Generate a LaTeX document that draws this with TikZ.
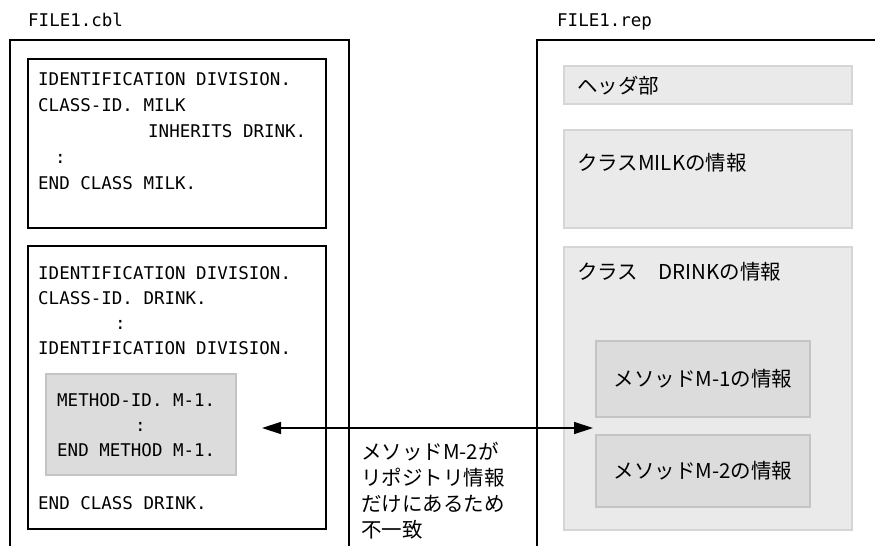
\documentclass[tikz,border=0pt]{standalone}
\usepackage{fontspec}
\usepackage{xcolor}
\usepackage{tikz}
\usetikzlibrary{arrows.meta}
\newfontfamily\codefont{DejaVu Sans Mono}
\newfontfamily\jpfont{Noto Sans CJK JP}
\definecolor{ColPanel}{RGB}{234,234,234}
\definecolor{ColPanelEdge}{RGB}{214,214,214}
\definecolor{ColMethod}{RGB}{220,220,220}
\definecolor{ColMethodEdge}{RGB}{196,196,196}

\begin{document}
\begin{tikzpicture}[
  x=1pt, y=-1pt,
  >={Triangle[length=19pt,width=12pt]},
  code/.style={anchor=base west, inner sep=0pt, align=left,
    font=\codefont\fontsize{17.5}{26}\selectfont},
  jp/.style={inner sep=0pt, align=left,
    font=\jpfont\fontsize{20.5}{26}\selectfont},
  frame/.style={draw=black, line width=1.5pt},
  panel/.style={fill=ColPanel, draw=ColPanelEdge, line width=1.2pt},
  methodbox/.style={fill=ColMethod, draw=ColMethodEdge, line width=1.2pt}
]
  \useasboundingbox (0,0) rectangle (875,546);

  % Source file FILE1.cbl (frame runs off the bottom)
  % (base of a multi-line node = baseline of its last line)
  \node[code] (cblname) at (28,26) {FILE1.cbl};
  \draw[frame] (10,546) -- (10,40) -- (349,40) -- (349,546);

  \draw[frame] (28,59) rectangle (326,228);
  \node[code] (milkcode) at (38,189.4) {IDENTIFICATION DIVISION.\\
    CLASS-ID. MILK\\
    \hspace*{110pt}INHERITS DRINK.\\
    \hspace*{17pt}:\\
    END CLASS MILK.};

  \draw[frame] (28,246) rectangle (326,529);
  \node[code, font=\codefont\fontsize{17.5}{25}\selectfont] (drinkcode) at (38,354.4)
    {IDENTIFICATION DIVISION.\\
    CLASS-ID. DRINK.\\
    \hspace*{77pt}:\\
    IDENTIFICATION DIVISION.};
  \draw[methodbox] (46,374) rectangle (236,475);
  \node[code, font=\codefont\fontsize{17.5}{25}\selectfont] (methodcode) at (57,456.4)
    {METHOD-ID. M-1.\\
    \hspace*{78pt}:\\
    END METHOD M-1.};
  \node[code] (drinkend) at (38,509.4) {END CLASS DRINK.};

  % Repository file FILE1.rep (frame runs off the right and the bottom)
  \node[code] (repname) at (557,26) {FILE1.rep};
  \draw[frame] (537,546) -- (537,40) -- (875,40);

  \draw[panel] (564,66) rectangle (852,104);
  \node[jp, anchor=west] (header) at (577,86) {ヘッダ部};
  \draw[panel] (564,130) rectangle (852,228);
  \node[jp, anchor=west] (milkinfo) at (577,163) {クラスMILKの情報};
  \draw[panel] (564,247) rectangle (852,530);
  \node[jp, anchor=west] (drinkinfo) at (577,272) {クラス　DRINKの情報};

  \draw[methodbox] (596,341) rectangle (810,417);
  \node[jp] (m1info) at (703,379) {メソッドM-1の情報};
  \draw[methodbox] (596,435) rectangle (810,507);
  \node[jp] (m2info) at (703,471) {メソッドM-2の情報};

  % Mismatch between the two files
  \coordinate (tipL) at (262,428);
  \coordinate (tipR) at (593,428);
  \draw[<->, line width=1.4pt] (tipL) -- (tipR);
  \node[jp, anchor=base west] (note) at (361,537.6)
    {メソッドM-2が\\リポジトリ情報\\だけにあるため\\不一致};
\end{tikzpicture}
\end{document}
